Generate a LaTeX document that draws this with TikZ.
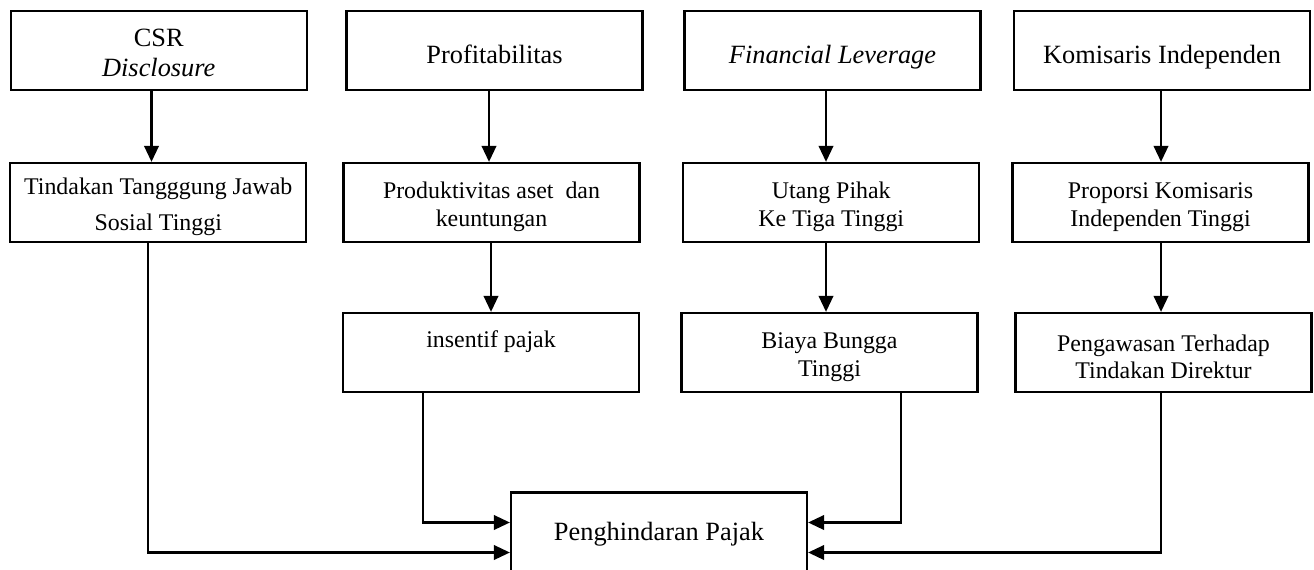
\documentclass[tikz,border=0pt]{standalone}
\usepackage{fontspec}
\setmainfont{Liberation Serif}
\usetikzlibrary{arrows.meta}
\newcommand\myliftrule{\rule{0pt}{14.5pt}}
\begin{document}
\begin{tikzpicture}[x=0.02cm,y=-0.02cm,
  box/.style={draw, line width=1.3pt, minimum width=5.92cm, minimum height=1.58cm, inner sep=0pt, align=center},
  topbox/.style={box, font=\fontsize{15}{17.2}\selectfont},
  lowbox/.style={box, font=\fontsize{13.6}{15.6}\selectfont},
  oneline/.style={text height=15pt, text depth=0.3pt},
  arr/.style={line width=1.3pt, -{Triangle[length=0.32cm,width=0.29cm]}}]
\clip (0,0) rectangle (1314,569);
\fill[white] (0,0) rectangle (1314,569);
% top row
\node[topbox] (csr) at (158.75,50.5) {\rule{0pt}{12.5pt}CSR\\\textit{Disclosure}};
\node[topbox,oneline] (prof) at (494.5,50.5) {Profitabilitas};
\node[topbox,oneline] (fin) at (832.5,50.5) {\textit{Financial Leverage}};
\node[topbox,oneline] (kom) at (1162,50.5) {Komisaris Independen};
% second row
\node[lowbox] (tj) at (158.25,202.5) {\myliftrule Tindakan Tangggung Jawab\\[5pt]Sosial Tinggi};
\node[lowbox] (prod) at (491.5,202.5) {\myliftrule Produktivitas aset\ \ dan\\keuntungan};
\node[lowbox] (utang) at (831.25,202.5) {\myliftrule Utang Pihak\\Ke Tiga Tinggi};
\node[lowbox] (prop) at (1160.5,202.5) {\myliftrule Proporsi Komisaris\\Independen Tinggi};
% third row
\node[lowbox] (ins) at (491,352.5) {insentif pajak\\\mbox{}};
\node[lowbox] (biaya) at (829.5,352.5) {\myliftrule Biaya Bungga\\Tinggi};
\node[lowbox] (peng) at (1163.5,352.5) {\myliftrule Pengawasan Terhadap\\Tindakan Direktur};
% result
\node[topbox, minimum height=1.65cm] (pp) at (659,533.75) {Penghindaran Pajak};
% arrow columns
\coordinate (a1) at (151.5,0);
\coordinate (a2) at (489,0);
\coordinate (a2b) at (491,0);
\coordinate (a3) at (826,0);
\coordinate (a4) at (1161,0);
\draw[arr] (csr.south -| a1) -- (tj.north -| a1);
\draw[arr] (prof.south -| a2) -- (prod.north -| a2);
\draw[arr] (fin.south -| a3) -- (utang.north -| a3);
\draw[arr] (kom.south -| a4) -- (prop.north -| a4);
\draw[arr] (prod.south -| a2b) -- (ins.north -| a2b);
\draw[arr] (utang.south -| a3) -- (biaya.north -| a3);
\draw[arr] (prop.south -| a4) -- (peng.north -| a4);
% connectors to result
\coordinate (b1) at (148,552.5);
\coordinate (b2) at (423,522.5);
\coordinate (b3) at (901,522.5);
\coordinate (b4) at (1161,552.5);
\draw[arr] (tj.south -| b1) -- (b1) -- (pp.west |- b1);
\draw[arr] (ins.south -| b2) -- (b2) -- (pp.west |- b2);
\draw[arr] (biaya.south -| b3) -- (b3) -- (pp.east |- b3);
\draw[arr] (peng.south -| b4) -- (b4) -- (pp.east |- b4);
\end{tikzpicture}
\end{document}
